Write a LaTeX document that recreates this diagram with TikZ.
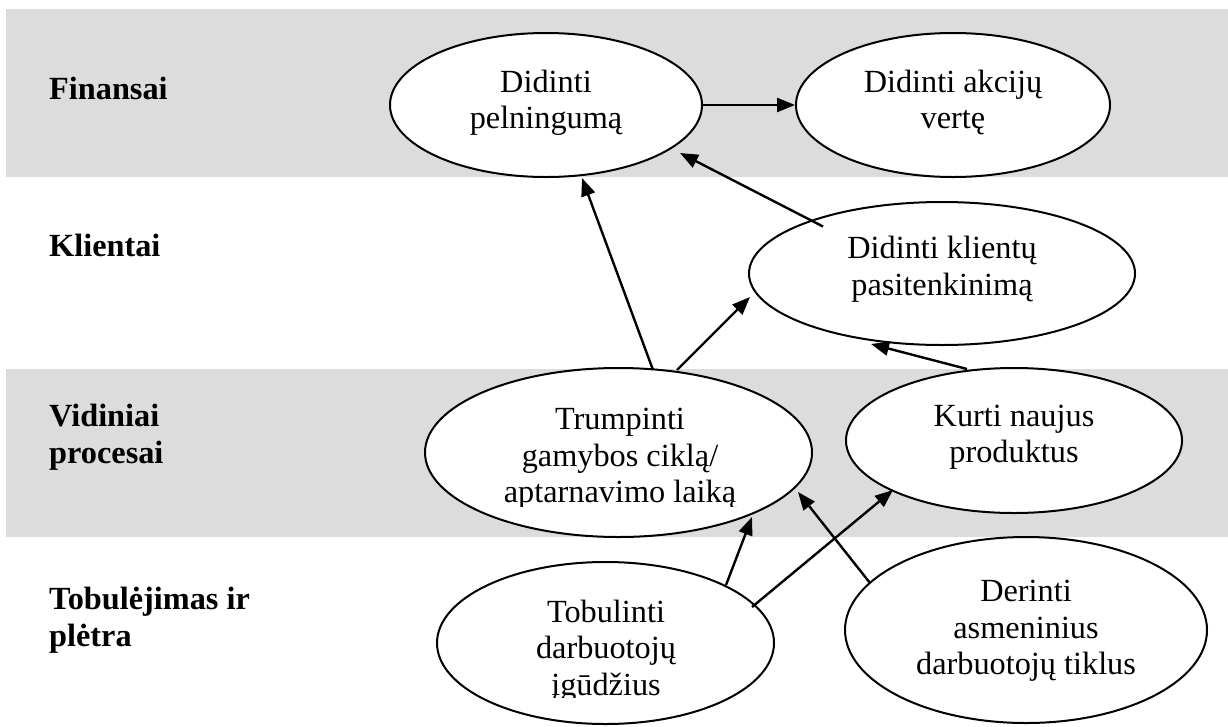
\documentclass[tikz,border=0pt]{standalone}
\usepackage{fontspec}
\setmainfont{Liberation Serif}
\usetikzlibrary{arrows.meta,shapes.geometric}
\definecolor{bandgray}{RGB}{220,220,220}

\begin{document}
\begin{tikzpicture}[x=1pt,y=-1pt,
  oval/.style={ellipse, draw=black, fill=white, line width=2pt, inner sep=0pt},
  txt/.style={font=\fontsize{32.3}{36.5}\selectfont, align=center, inner sep=0pt},
  lbl/.style={font=\bfseries\fontsize{32.3}{36.5}\selectfont, align=left, inner sep=0pt},
  conn/.style={-{Triangle[length=18pt,width=14pt]}, line width=2.4pt}]

\useasboundingbox (0,0) rectangle (1228,726);

% perspective bands
\fill[bandgray] (6,9) rectangle (1228,177);
\fill[bandgray] (6,369) rectangle (1228,537);

% perspective labels
\node[lbl, anchor=base west] (lFin) at (49,99) {Finansai};
\node[lbl, anchor=base west] (lKli) at (49,256) {Klientai};
\node[lbl, anchor=west] (lVid) at (49,437) {Vidiniai\\procesai};
\node[lbl, anchor=west] (lTob) at (49,620) {Tobulėjimas ir\\plėtra};

% goals
\node[oval, minimum width=312, minimum height=144] (pel) at (546,105) {};
\node[txt] (pelT) at (546,102.6) {Didinti\\pelningumą};

\node[oval, minimum width=314, minimum height=144] (akc) at (953,105) {};
\node[txt] (akcT) at (953,102.6) {Didinti akcijų\\vertę};

\node[oval, minimum width=386, minimum height=143] (kli) at (942,273.5) {};
\node[txt] (kliT) at (942,269) {Didinti klientų\\pasitenkinimą};

\node[oval, minimum width=387, minimum height=169] (trump) at (618.5,452.5) {};
\begin{scope}
  \clip (400,380) rectangle (840,506);
  \node[txt] (trumpT) at (620,459) {Trumpinti\\gamybos ciklą/\\aptarnavimo laiką};
\end{scope}

\node[oval, minimum width=336, minimum height=145] (kurti) at (1014,440.5) {};
\node[txt] (kurtiT) at (1014,437) {Kurti naujus\\produktus};

\node[oval, minimum width=337, minimum height=162] (tobul) at (605.5,643) {};
\begin{scope}
  \clip (420,580) rectangle (790,697);
  \node[txt] (tobulT) at (606,651) {Tobulinti\\darbuotojų\\įgūdžius};
\end{scope}

\node[oval, minimum width=362, minimum height=186] (der) at (1026,630) {};
\node[txt] (derT) at (1026,631) {Derinti\\asmeninius\\darbuotojų tiklus};

% cause-effect links
\draw[conn] (pel.east) -- (akc.west);
\draw[conn] ([shift={(-119,-47)}]kli.center) -- ([shift={(134,48)}]pel.center);
\draw[conn] ([shift={(34.5,-82.5)}]trump.center) -- ([shift={(36,73)}]pel.center);
\draw[conn] ([shift={(58.5,-82.5)}]trump.center) -- ([shift={(-192,23.5)}]kli.center);
\draw[conn] ([shift={(-47,-71.5)}]kurti.center) -- ([shift={(-71,70.5)}]kli.center);
\draw[conn] ([shift={(120.5,-58)}]tobul.center) -- ([shift={(133.5,64.5)}]trump.center);
\draw[conn] ([shift={(146.5,-36)}]tobul.center) -- ([shift={(-121,49.5)}]kurti.center);
\draw[conn] ([shift={(-156,-47)}]der.center) -- ([shift={(179.5,39.5)}]trump.center);

\end{tikzpicture}
\end{document}
